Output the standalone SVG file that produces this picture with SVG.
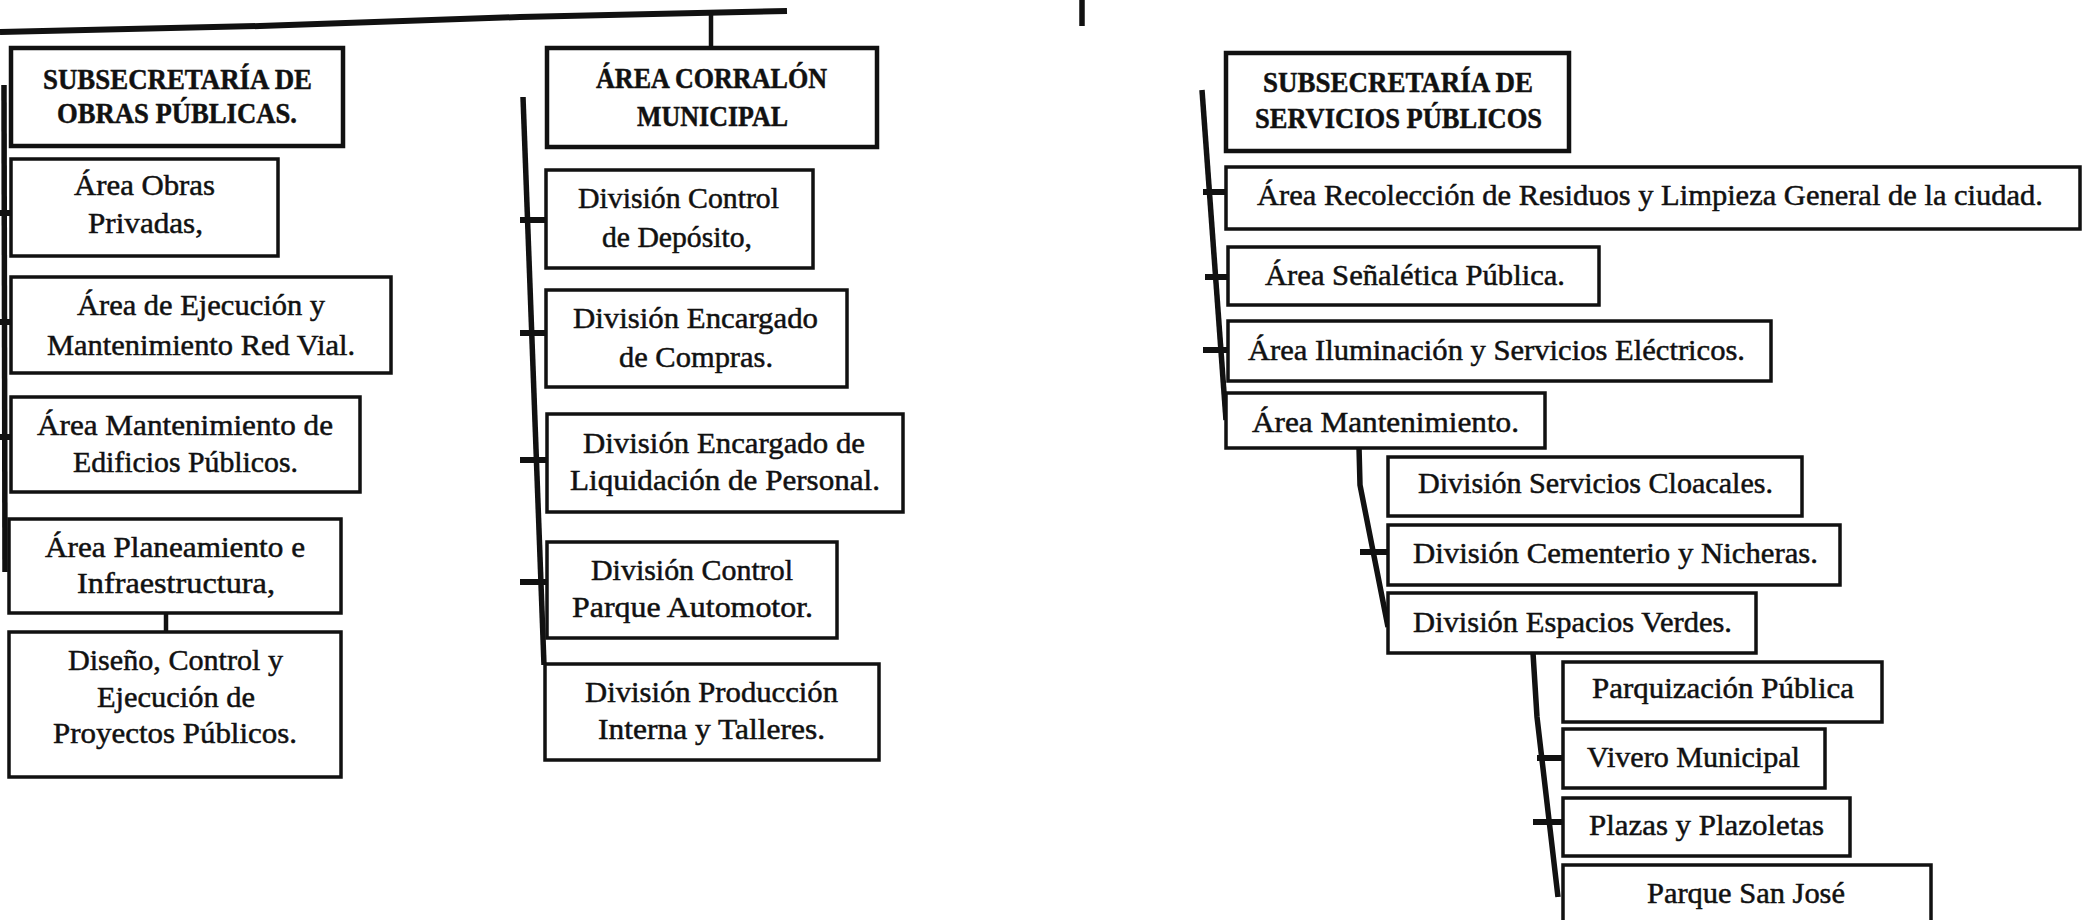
<svg xmlns="http://www.w3.org/2000/svg" width="2082" height="920" viewBox="0 0 2082 920">
<style>
.box{fill:#fff;stroke:#111;stroke-width:3.5}
.hdr{fill:#fff;stroke:#111;stroke-width:4.5}
.t{font-family:'Liberation Serif','Times New Roman',serif;font-size:30px;fill:#111;stroke:#111;stroke-width:0.5}
.b{font-weight:bold;font-size:30px}
.c{stroke:#111;stroke-width:5.5;fill:none;stroke-linejoin:round}
.k{stroke:#111;stroke-width:6;fill:none}
</style>
<rect width="2082" height="920" fill="#fff"/>
<g id="connectors">
<polyline class="c" points="0,32 260,26 520,17 787,11" style="stroke-width:6"/>
<line class="c" x1="711" y1="13" x2="711" y2="48" style="stroke-width:4.5"/>
<line class="c" x1="1082" y1="0" x2="1082" y2="26"/>
<line class="c" x1="4" y1="85" x2="5" y2="572"/>
<line class="k" x1="0" y1="213" x2="12" y2="213"/>
<line class="k" x1="0" y1="322" x2="12" y2="322"/>
<line class="k" x1="0" y1="437" x2="12" y2="437"/>
<line class="c" x1="166" y1="613" x2="166" y2="632" style="stroke-width:4.5"/>
<line class="c" x1="523" y1="97" x2="544" y2="665"/>
<line class="k" x1="520" y1="220" x2="547" y2="220"/>
<line class="k" x1="520" y1="333" x2="547" y2="333"/>
<line class="k" x1="520" y1="460" x2="547" y2="460"/>
<line class="k" x1="520" y1="582" x2="547" y2="582"/>
<line class="c" x1="1202" y1="90" x2="1226" y2="420"/>
<line class="k" x1="1203" y1="192" x2="1227" y2="192"/>
<line class="k" x1="1205" y1="277" x2="1229" y2="277"/>
<line class="k" x1="1203" y1="350" x2="1229" y2="350"/>
<polyline class="c" points="1359,447 1360,485 1388,627"/>
<line class="k" x1="1360" y1="552" x2="1388" y2="552"/>
<polyline class="c" points="1533,653 1537,717 1558,897"/>
<line class="k" x1="1537" y1="758" x2="1563" y2="758"/>
<line class="k" x1="1533" y1="822" x2="1563" y2="822"/>
</g>
<g id="n-subsec-obras"><rect class="hdr" x="11" y="48" width="332" height="98"/>
<text class="t b" x="43" y="89" textLength="269" lengthAdjust="spacingAndGlyphs">SUBSECRETARÍA DE</text>
<text class="t b" x="57" y="123" textLength="240" lengthAdjust="spacingAndGlyphs">OBRAS PÚBLICAS.</text></g>
<g id="n-obras-privadas"><rect class="box" x="11" y="159" width="267" height="97"/>
<text class="t" x="74" y="195" textLength="141" lengthAdjust="spacingAndGlyphs">Área Obras</text>
<text class="t" x="88" y="233" textLength="115" lengthAdjust="spacingAndGlyphs">Privadas,</text></g>
<g id="n-red-vial"><rect class="box" x="11" y="277" width="380" height="96"/>
<text class="t" x="77" y="315" textLength="248" lengthAdjust="spacingAndGlyphs">Área de Ejecución y</text>
<text class="t" x="47" y="355" textLength="308" lengthAdjust="spacingAndGlyphs">Mantenimiento Red Vial.</text></g>
<g id="n-edificios"><rect class="box" x="11" y="397" width="349" height="95"/>
<text class="t" x="37" y="435" textLength="296" lengthAdjust="spacingAndGlyphs">Área Mantenimiento de</text>
<text class="t" x="73" y="472" textLength="225" lengthAdjust="spacingAndGlyphs">Edificios Públicos.</text></g>
<g id="n-planeamiento"><rect class="box" x="9" y="519" width="332" height="94"/>
<text class="t" x="45" y="557" textLength="260" lengthAdjust="spacingAndGlyphs">Área Planeamiento e</text>
<text class="t" x="77" y="593" textLength="198" lengthAdjust="spacingAndGlyphs">Infraestructura,</text></g>
<g id="n-diseno"><rect class="box" x="9" y="632" width="332" height="145"/>
<text class="t" x="68" y="670" textLength="215" lengthAdjust="spacingAndGlyphs">Diseño, Control y</text>
<text class="t" x="97" y="707" textLength="158" lengthAdjust="spacingAndGlyphs">Ejecución de</text>
<text class="t" x="53" y="743" textLength="244" lengthAdjust="spacingAndGlyphs">Proyectos Públicos.</text></g>
<g id="n-corralon"><rect class="hdr" x="547" y="48" width="330" height="99"/>
<text class="t b" x="596" y="88" textLength="231" lengthAdjust="spacingAndGlyphs">ÁREA CORRALÓN</text>
<text class="t b" x="637" y="126" textLength="151" lengthAdjust="spacingAndGlyphs">MUNICIPAL</text></g>
<g id="n-deposito"><rect class="box" x="546" y="170" width="267" height="98"/>
<text class="t" x="578" y="208" textLength="201" lengthAdjust="spacingAndGlyphs">División Control</text>
<text class="t" x="602" y="247" textLength="150" lengthAdjust="spacingAndGlyphs">de Depósito,</text></g>
<g id="n-compras"><rect class="box" x="546" y="290" width="301" height="97"/>
<text class="t" x="573" y="328" textLength="245" lengthAdjust="spacingAndGlyphs">División Encargado</text>
<text class="t" x="619" y="367" textLength="154" lengthAdjust="spacingAndGlyphs">de Compras.</text></g>
<g id="n-liquidacion"><rect class="box" x="547" y="414" width="356" height="98"/>
<text class="t" x="583" y="453" textLength="282" lengthAdjust="spacingAndGlyphs">División Encargado de</text>
<text class="t" x="570" y="490" textLength="310" lengthAdjust="spacingAndGlyphs">Liquidación de Personal.</text></g>
<g id="n-automotor"><rect class="box" x="547" y="542" width="290" height="96"/>
<text class="t" x="591" y="580" textLength="202" lengthAdjust="spacingAndGlyphs">División Control</text>
<text class="t" x="572" y="617" textLength="241" lengthAdjust="spacingAndGlyphs">Parque Automotor.</text></g>
<g id="n-produccion"><rect class="box" x="545" y="664" width="334" height="96"/>
<text class="t" x="585" y="702" textLength="253" lengthAdjust="spacingAndGlyphs">División Producción</text>
<text class="t" x="598" y="739" textLength="227" lengthAdjust="spacingAndGlyphs">Interna y Talleres.</text></g>
<g id="n-subsec-servicios"><rect class="hdr" x="1226" y="53" width="343" height="98"/>
<text class="t b" x="1263" y="92" textLength="270" lengthAdjust="spacingAndGlyphs">SUBSECRETARÍA DE</text>
<text class="t b" x="1255" y="128" textLength="287" lengthAdjust="spacingAndGlyphs">SERVICIOS PÚBLICOS</text></g>
<g id="n-recoleccion"><rect class="box" x="1226" y="167" width="854" height="62"/>
<text class="t" x="1257" y="205" textLength="786" lengthAdjust="spacingAndGlyphs">Área Recolección de Residuos y Limpieza General de la ciudad.</text></g>
<g id="n-senaletica"><rect class="box" x="1228" y="247" width="371" height="58"/>
<text class="t" x="1265" y="285" textLength="300" lengthAdjust="spacingAndGlyphs">Área Señalética Pública.</text></g>
<g id="n-iluminacion"><rect class="box" x="1228" y="321" width="543" height="60"/>
<text class="t" x="1248" y="360" textLength="497" lengthAdjust="spacingAndGlyphs">Área Iluminación y Servicios Eléctricos.</text></g>
<g id="n-mantenimiento"><rect class="box" x="1226" y="393" width="319" height="55"/>
<text class="t" x="1252" y="432" textLength="267" lengthAdjust="spacingAndGlyphs">Área Mantenimiento.</text></g>
<g id="n-cloacales"><rect class="box" x="1388" y="457" width="414" height="59"/>
<text class="t" x="1418" y="493" textLength="355" lengthAdjust="spacingAndGlyphs">División Servicios Cloacales.</text></g>
<g id="n-cementerio"><rect class="box" x="1388" y="525" width="452" height="60"/>
<text class="t" x="1413" y="563" textLength="405" lengthAdjust="spacingAndGlyphs">División Cementerio y Nicheras.</text></g>
<g id="n-espacios-verdes"><rect class="box" x="1388" y="593" width="368" height="60"/>
<text class="t" x="1413" y="632" textLength="319" lengthAdjust="spacingAndGlyphs">División Espacios Verdes.</text></g>
<g id="n-parquizacion"><rect class="box" x="1563" y="662" width="319" height="60"/>
<text class="t" x="1592" y="698" textLength="262" lengthAdjust="spacingAndGlyphs">Parquización Pública</text></g>
<g id="n-vivero"><rect class="box" x="1563" y="729" width="262" height="59"/>
<text class="t" x="1587" y="767" textLength="213" lengthAdjust="spacingAndGlyphs">Vivero Municipal</text></g>
<g id="n-plazas"><rect class="box" x="1563" y="798" width="287" height="58"/>
<text class="t" x="1589" y="835" textLength="235" lengthAdjust="spacingAndGlyphs">Plazas y Plazoletas</text></g>
<g id="n-parque-san-jose"><rect class="box" x="1563" y="865" width="368" height="80"/>
<text class="t" x="1647" y="903" textLength="198" lengthAdjust="spacingAndGlyphs">Parque San José</text></g>
</svg>
